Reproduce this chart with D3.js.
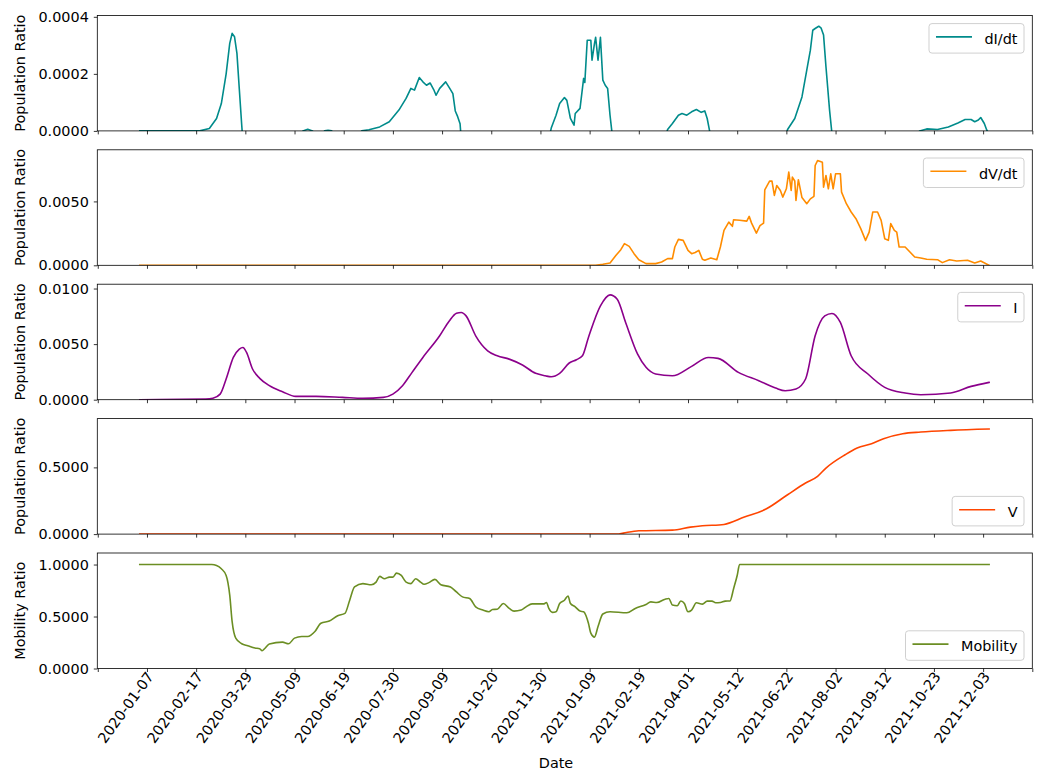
<!DOCTYPE html>
<html>
<head>
<meta charset="utf-8">
<script src="https://cdn.jsdelivr.net/npm/d3@7"></script>
<style>
  body { margin: 0; background: #fff; }
  svg { display: block; }
  text { font-family: "DejaVu Sans", "Liberation Sans", sans-serif; fill: #000; }
</style>
</head>
<body>
<svg id="chart" width="1041" height="776"></svg>
<script>
// ---- data: day index (0 = 2020-01-01) and value ----
const tickIndexStart = -35;
const tickStep = 41;
const tickLabels = ["2020-01-07", "2020-02-17", "2020-03-29", "2020-05-09", "2020-06-19",
  "2020-07-30", "2020-09-09", "2020-10-20", "2020-11-30", "2021-01-09", "2021-02-19",
  "2021-04-01", "2021-05-12", "2021-06-22", "2021-08-02", "2021-09-12", "2021-10-23", "2021-12-03"];

const dIdt = [[0,0],[50,0],[58,0.0000085],[64,0.0000435],[68,0.000096],[72,0.0002],[75,0.000307],
  [77,0.000342],[79,0.00033],[81,0.000272],[83,0.000145],[85,0.00002],[86,-0.00004],[88,-0.0001],
  [132,-0.0001],[136,0],[140,0.000006],[144,0],[146,-0.00002],[152,-0.00002],[154,0],[157,0.000002],
  [160,0],[162,-0.00002],[182,-0.00002],[185,0],[191,0.000004],[200,0.000014],[208,0.000032],
  [216,0.000073],[222,0.000114],[226,0.000149],[229,0.000143],[233,0.000187],[236,0.000172],
  [239,0.00016],[242,0.000168],[245,0.000145],[247,0.000125],[250,0.000149],[255,0.000172],
  [258,0.000152],[261,0.000131],[263,0.00007],[265,0.00005],[267,0.000025],[268,-0.00003],
  [270,-0.0001],[340,-0.0001],[342,-0.00001],[343,0.00001],[347,0.000055],[350,0.000096],
  [354,0.000117],[356,0.000107],[359,0.0000435],[362,0.00002],[363,0.000061],[367,0.000079],
  [370,0.000184],[371,0.00017],[373,0.000318],[376,0.000318],[377,0.000248],[379,0.000305],
  [380,0.000328],[382,0.000248],[384,0.000328],[386,0.000178],[388,0.00016],[390,0.000149],
  [392,0.000055],[394,-0.00002],[396,-0.0001],[437,-0.0001],[439,-0.00001],[440,0.000005],
  [444,0.000026],[449,0.000055],[452,0.000061],[456,0.000055],[460,0.000067],[464,0.000075],
  [468,0.000065],[471,0.00007],[473,0.0000435],[475,0],[476,-0.00004],[478,-0.0001],
  [537,-0.0001],[539,-0.00001],[540,0.000005],[546,0.0000435],[552,0.000119],[556,0.000213],
  [559,0.000283],[561,0.000353],[563,0.000359],[566,0.000367],[568,0.00036],[570,0.000336],
  [572,0.000225],[575,0.000073],[577,-0.00001],[579,-0.0001],[647,-0.0001],[650,0],
  [656,0.000007],[665,0.000005],[674,0.000014],[682,0.000028],[688,0.00004],[693,0.00004],
  [696,0.000032],[699,0.000038],[701,0.000047],[704,0.000026],[706,0.000003],[708,-0.00001]];

const dVdt = [[0,0],[380,0],[386,0.00008],[392,0.00018],[397,0.00078],[401,0.00122],[404,0.0017],
  [408,0.00148],[412,0.00091],[416,0.00044],[422,0.00013],[430,0.00013],[435,0.00026],[440,0.00052],
  [444,0.00052],[446,0.00143],[449,0.00203],[453,0.00195],[457,0.00117],[460,0.00091],[463,0.001],
  [466,0.00117],[469,0.00047],[471,0.00039],[476,0.00057],[481,0.00044],[484,0.00143],[487,0.00273],
  [491,0.00338],[494,0.00305],[495,0.00357],[500,0.00352],[506,0.00346],[508,0.00383],[510,0.0033],
  [514,0.00252],[517,0.0031],[520,0.0033],[521,0.00591],[525,0.00659],[527,0.00659],[529,0.00547],
  [531,0.00625],[534,0.00586],[536,0.00534],[539,0.00599],[541,0.00729],[543,0.00586],[544,0.0069],
  [546,0.0066],[547,0.00508],[549,0.0067],[552,0.0053],[556,0.00482],[559,0.0052],[562,0.0054],
  [563,0.00781],[565,0.0082],[569,0.00807],[570,0.00612],[572,0.00703],[574,0.00599],[576,0.00716],
  [578,0.00599],[580,0.00716],[584,0.00716],[585,0.00573],[589,0.00482],[593,0.00417],[597,0.00365],
  [601,0.00287],[605,0.00195],[608,0.0026],[611,0.00417],[615,0.00417],[618,0.00352],[621,0.00208],
  [624,0.00195],[626,0.00326],[629,0.00273],[631,0.0026],[633,0.00143],[638,0.00143],[642,0.00104],
  [646,0.00065],[651,0.00057],[656,0.00047],[665,0.00044],[669,0.00021],[675,0.00044],[681,0.00034],
  [690,0.00039],[696,0.00018],[701,0.00034],[708,0]];

const infected = [[0,0],[55,0.00005],[61,0.00013],[67,0.0005],[72,0.00186],[78,0.0038],[83,0.00455],
  [86,0.0047],[89,0.00425],[94,0.00276],[100,0.00192],[108,0.00126],[119,0.00072],[130,0.0003],
  [147,0.0003],[169,0.00021],[186,0.00013],[203,0.00021],[211,0.0005],[219,0.00126],[227,0.00246],
  [236,0.0038],[250,0.00575],[258,0.00709],[264,0.00778],[268,0.00785],[272,0.00754],[280,0.00575],
  [290,0.0044],[298,0.00395],[308,0.00365],[319,0.00312],[330,0.00237],[338,0.00215],[343,0.00206],
  [350,0.00237],[358,0.0033],[364,0.0036],[369,0.00395],[374,0.0056],[384,0.00844],[392,0.00943],
  [398,0.00904],[405,0.00695],[415,0.0041],[422,0.00291],[430,0.00231],[444,0.00215],[460,0.003],
  [474,0.0038],[482,0.00372],[499,0.00246],[516,0.00171],[530,0.00105],[538,0.00081],[547,0.00096],
  [555,0.00186],[563,0.00575],[571,0.00754],[577,0.00776],[584,0.00695],[593,0.00395],[607,0.00231],
  [621,0.00111],[638,0.0006],[651,0.00045],[676,0.0006],[693,0.0012],[708,0.00156]];

const vaccinated = [[0,0],[398,0],[403,0.0075],[416,0.025],[444,0.03],[459,0.0525],[469,0.0625],
  [487,0.0725],[504,0.1275],[522,0.1875],[540,0.295],[555,0.3825],[565,0.4325],[572,0.495],
  [588,0.595],[598,0.645],[610,0.6775],[620,0.715],[636,0.7525],[651,0.765],[676,0.7775],[708,0.7875]];

const mobility = [[0,1],[60,1],[64,0.99],[68,0.959],[72,0.895],[75,0.705],[77,0.45],[80,0.292],
  [85,0.238],[90,0.219],[96,0.197],[100,0.19],[102,0.171],[104,0.19],[108,0.235],[119,0.254],
  [124,0.238],[129,0.292],[135,0.308],[140,0.308],[146,0.356],[151,0.435],[158,0.457],[165,0.508],
  [171,0.53],[175,0.657],[179,0.784],[186,0.816],[193,0.806],[197,0.831],[200,0.886],[204,0.864],
  [208,0.879],[211,0.879],[214,0.917],[218,0.895],[222,0.831],[226,0.816],[230,0.864],[234,0.831],
  [237,0.81],[241,0.826],[246,0.857],[251,0.806],[259,0.784],[264,0.736],[269,0.689],[275,0.673],
  [280,0.593],[286,0.562],[291,0.546],[294,0.568],[298,0.57],[303,0.625],[308,0.578],[312,0.552],
  [318,0.562],[322,0.593],[327,0.622],[337,0.622],[339,0.635],[341,0.578],[344,0.54],[347,0.546],
  [350,0.625],[354,0.657],[357,0.698],[359,0.625],[363,0.593],[367,0.552],[370,0.546],[372,0.508],
  [374,0.435],[376,0.34],[379,0.302],[382,0.403],[386,0.524],[392,0.546],[406,0.536],[413,0.578],
  [422,0.616],[426,0.641],[431,0.635],[438,0.667],[441,0.673],[444,0.61],[448,0.603],[451,0.65],
  [454,0.625],[457,0.546],[460,0.562],[464,0.632],[469,0.619],[473,0.648],[477,0.648],[480,0.632],
  [484,0.635],[488,0.648],[492,0.65],[495,0.768],[498,0.895],[500,1],[708,1]];

// ---- layout ----
const svg = d3.select("#chart");
const left = 97.3, right = 1032.3;
const panelTop0 = 15.4, panelPitch = 134.4, panelH = 115.5;
const fontSize = 14.4;

const x = d3.scaleLinear().domain([-35.4, 744]).range([left, right]);
const tickIdx = d3.range(20).map(k => tickIndexStart + k * tickStep);

const panels = [
  { data: dIdt, name: "dI/dt", color: "#008B8B", yMax: 0.000405, ticks: [0, 0.0002, 0.0004], ylabel: "Population Ratio", legend: "top", curve: d3.curveLinear },
  { data: dVdt, name: "dV/dt", color: "#FF8C00", yMax: 0.00904, ticks: [0, 0.005], ylabel: "Population Ratio", legend: "top", curve: d3.curveLinear },
  { data: infected, name: "I", color: "#8B008B", yMax: 0.01039, ticks: [0, 0.005, 0.01], ylabel: "Population Ratio", legend: "top", curve: d3.curveMonotoneX },
  { data: vaccinated, name: "V", color: "#FF4500", yMax: 0.8656, ticks: [0, 0.5], ylabel: "Population Ratio", legend: "bottom", curve: d3.curveMonotoneX },
  { data: mobility, name: "Mobility", color: "#6B8E23", yMax: 1.111, ticks: [0, 0.5, 1.0], ylabel: "Mobility Ratio", legend: "bottom", curve: d3.curveMonotoneX }
];

panels.forEach((p, i) => {
  const top = panelTop0 + i * panelPitch;
  const bottom = top + panelH;
  const y = d3.scaleLinear().domain([0, p.yMax]).range([bottom, top]);
  const g = svg.append("g");

  const clipId = "clip" + i;
  svg.append("clipPath").attr("id", clipId)
    .append("rect").attr("x", left).attr("y", top).attr("width", right - left).attr("height", panelH);

  // series line
  const line = d3.line().x(d => x(d[0])).y(d => y(d[1])).curve(p.curve);
  g.append("path").datum(p.data)
    .attr("clip-path", `url(#${clipId})`)
    .attr("fill", "none").attr("stroke", p.color).attr("stroke-width", 1.6)
    .attr("stroke-linejoin", "round").attr("stroke-linecap", "square")
    .attr("d", line);

  // y axis
  const yAxis = d3.axisLeft(y).tickValues(p.ticks).tickFormat(d3.format(".4f"))
    .tickSizeInner(3.5).tickSizeOuter(0).tickPadding(5);
  const ya = g.append("g").attr("transform", `translate(${left},0)`).call(yAxis);
  ya.select(".domain").remove();
  ya.selectAll(".tick line").attr("stroke", "#000").attr("stroke-width", 0.8);
  ya.selectAll(".tick text").attr("font-size", fontSize).attr("font-family", null);

  // x axis ticks on every panel, labels only on the bottom one
  const xAxis = d3.axisBottom(x).tickValues(tickIdx)
    .tickFormat(d => { const k = (d - tickIndexStart) / tickStep; return (k >= 1 && k <= tickLabels.length) ? tickLabels[k - 1] : ""; })
    .tickSizeInner(3.5).tickSizeOuter(0).tickPadding(3);
  const xa = g.append("g").attr("transform", `translate(0,${bottom})`).call(xAxis);
  xa.select(".domain").remove();
  xa.selectAll(".tick line").attr("stroke", "#000").attr("stroke-width", 0.8);
  if (i === panels.length - 1) {
    xa.selectAll(".tick text")
      .attr("font-size", fontSize).attr("font-family", null)
      .attr("text-anchor", "end")
      .attr("dy", null).attr("y", null)
      .attr("transform", "translate(7,8) rotate(-54)");
  } else {
    xa.selectAll(".tick text").remove();
  }

  // frame
  g.append("rect").attr("x", left).attr("y", top).attr("width", right - left).attr("height", panelH)
    .attr("fill", "none").attr("stroke", "#000").attr("stroke-width", 0.8);

  // y label
  g.append("text").attr("transform", `translate(25,${(top + bottom) / 2}) rotate(-90)`)
    .attr("text-anchor", "middle").attr("font-size", fontSize).text(p.ylabel);

  // legend
  const lg = g.append("g");
  const box = lg.append("rect").attr("fill", "#fff").attr("fill-opacity", 0.8)
    .attr("stroke", "#d0d0d0").attr("stroke-width", 1).attr("rx", 3);
  const txt = lg.append("text").attr("font-size", fontSize).text(p.name);
  const tw = txt.node().getComputedTextLength();
  const bw = 7 + 36 + 12.5 + tw + 6.5, bh = 29.5;
  const bx = right - 8.3 - bw;
  const by = p.legend === "top" ? top + 8.2 : bottom - 8.2 - bh;
  box.attr("x", bx).attr("y", by).attr("width", bw).attr("height", bh);
  lg.append("line").attr("x1", bx + 7).attr("x2", bx + 43).attr("y1", by + 13.3).attr("y2", by + 13.3)
    .attr("stroke", p.color).attr("stroke-width", 1.6);
  txt.attr("x", bx + 55.5).attr("y", by + 20.5);
});

// x label
svg.append("text").attr("x", 556).attr("y", 768).attr("text-anchor", "middle")
  .attr("font-size", fontSize).text("Date");
</script>
</body>
</html>
